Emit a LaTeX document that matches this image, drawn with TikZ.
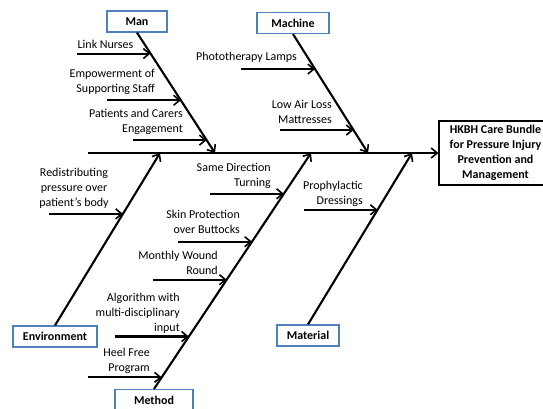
\documentclass[tikz,border=0pt]{standalone}
\usepackage{fontspec}
\setmainfont{Carlito}
\usetikzlibrary{arrows.meta,calc}
\definecolor{boxblue}{RGB}{79,129,189}

\begin{document}
\begin{tikzpicture}[x=1pt,y=1pt,
		bone/.style={line width=2.1pt,-{Straight Barb[length=6pt,width=10pt,line width=1.6pt]}},
		catbox/.style={draw=boxblue,line width=1.2pt,fill=white,font=\bfseries\fontsize{12}{15}\selectfont,minimum height=21pt,inner sep=0pt},
		cause/.style={inner sep=0pt,align=right,anchor=east,font=\fontsize{12}{15}\selectfont}]
		\clip (0,0) rectangle (543,-408);
		% head of the fish
		\node [draw=black,line width=1.2pt,fill=white,font=\bfseries\fontsize{12}{15}\selectfont,align=center,minimum width=113pt,minimum height=64pt,inner sep=0pt] (effect) at (495.5,-153) {HKBH Care Bundle\\for Pressure Injury\\Prevention and\\Management};
		\coordinate (tail) at (88,-153);
		\draw [bone] (tail) -- (effect.west);
		% categories
		\node [catbox,minimum width=60pt] (man) at (137,-21.5) {Man};
		\node [catbox,minimum width=72pt] (machine) at (293,-23) {Machine};
		\node [catbox,minimum width=84pt] (environment) at (55,-336.5) {Environment};
		\node [catbox,minimum width=62pt] (material) at (308,-335.5) {Material};
		\node [catbox,minimum width=78pt] (method) at (154,-400) {Method};
		\coordinate (mantip) at (215,-153);
		\coordinate (machinetip) at (368,-153);
		\coordinate (environmenttip) at (160,-153);
		\coordinate (methodtip) at (311,-153);
		\coordinate (materialtip) at (412,-153);
		\draw [bone] (man.south) -- (mantip);
		\draw [bone] (machine.south) -- (machinetip);
		\draw [bone] (environment.north) -- (environmenttip);
		\draw [bone] (method.north) -- (methodtip);
		\draw [bone] (material.north) -- (materialtip);
		% small bones
		\foreach \name/\from/\to/\t in {ln/man.south/mantip/0.174, es/man.south/mantip/0.562, pc/man.south/mantip/0.893,
			pl/machine.south/machinetip/0.294, la/machine.south/machinetip/0.807,
			rp/environment.north/environmenttip/0.647,
			sd/method.north/methodtip/0.827, sp/method.north/methodtip/0.624, mw/method.north/methodtip/0.463,
			al/method.north/methodtip/0.222, hf/method.north/methodtip/0.049,
			pd/material.north/materialtip/0.669} {
			\coordinate (\name end) at ($(\from)!\t!(\to)$);
			\coordinate (\name start) at ($(\name end)+(-74,0)$);
			\draw [bone] (\name start) -- (\name end);
		}
		% causes
		\node [cause,anchor=center] (ln) at (105.5,-44) {Link Nurses};
		\node [cause] (es) at (155,-81.5) {Empowerment of\\Supporting Staff};
		\node [cause] (pc) at (183,-121.5) {Patients and Carers\\Engagement};
		\node [cause,anchor=center] (pl) at (246.5,-57) {Phototherapy Lamps};
		\node [cause] (la) at (332,-111.5) {Low Air Loss\\Mattresses};
		\node [cause,align=center,anchor=center] (rp) at (74,-188) {Redistributing\\pressure over\\patient's body};
		\node [cause] (sd) at (271,-175.5) {Same Direction\\Turning};
		\node [cause] (pd) at (363,-193.5) {Prophylactic\\Dressings};
		\node [cause] (sp) at (240,-222) {Skin Protection\\over Buttocks};
		\node [cause] (mw) at (218,-263) {Monthly Wound\\Round};
		\node [cause] (al) at (180,-313) {Algorithm with\\multi-disciplinary\\input};
		\node [cause] (hf) at (150,-361) {Heel Free\\Program};
		\end{tikzpicture}
\end{document}
